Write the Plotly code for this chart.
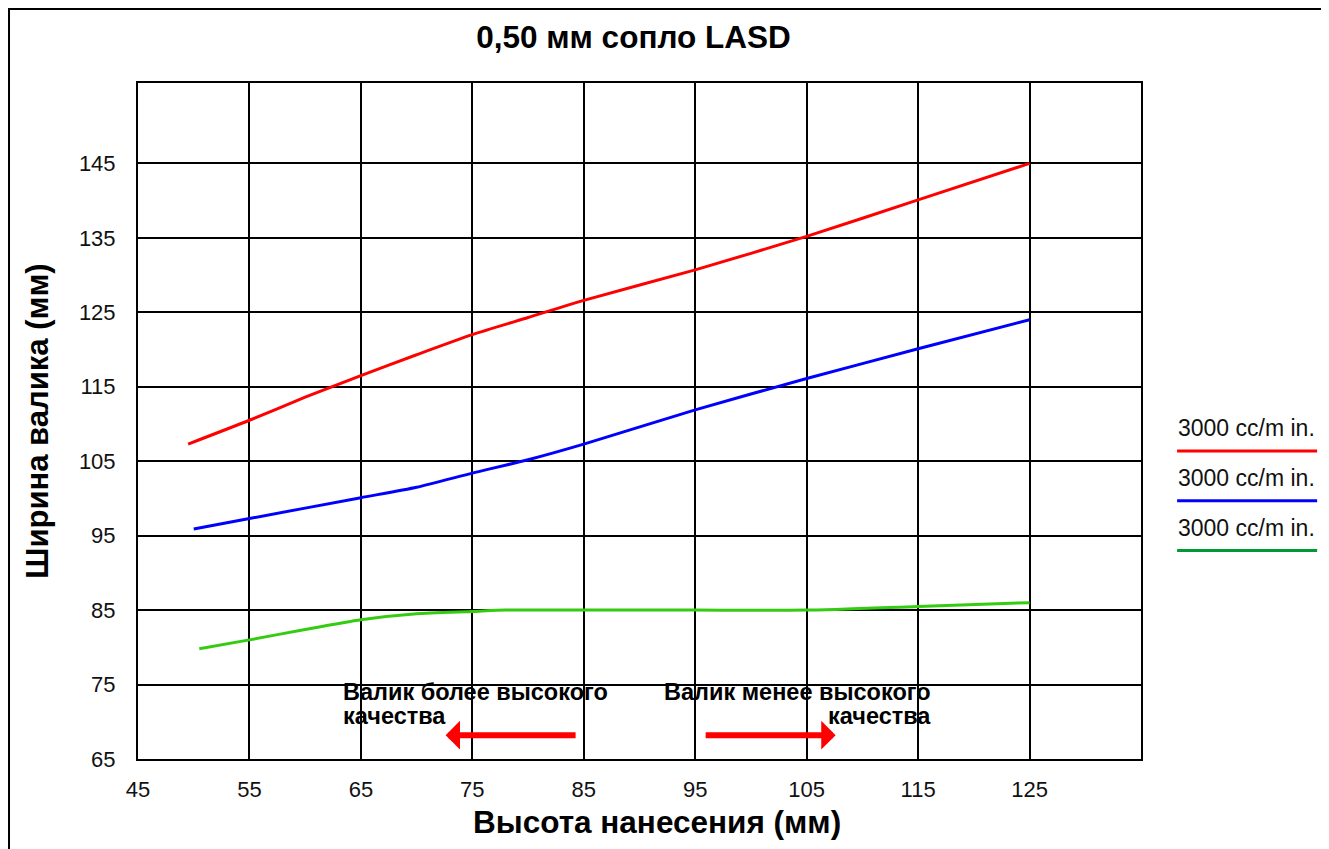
import plotly.graph_objects as go

# ======================================================
# Data
# ======================================================
red_x = [49.5, 55, 60, 65, 70, 75, 80, 85, 95, 105, 115, 125]
red_y = [107.3, 110.5, 113.6, 116.5, 119.3, 122.0, 124.3, 126.6, 130.7, 135.2, 140.1, 145.0]

blue_x = [50, 55, 65, 70, 75, 80, 85, 95, 105, 115, 125]
blue_y = [95.9, 97.3, 100.1, 101.5, 103.4, 105.2, 107.3, 111.9, 116.1, 120.1, 124.0]

green_x = [50.5, 55, 60, 65, 70, 75, 78, 85, 95, 105, 115, 125]
green_y = [79.8, 81.0, 82.4, 83.7, 84.5, 84.8, 85.0, 85.0, 85.0, 85.0, 85.5, 86.0]

series_names = ["3000 cc/m in.", "3000 cc/m in.", "3000 cc/m in."]
line_colors = ["#ff0000", "#0000ff", "#33cc11"]
legend_colors = ["#ff0000", "#0000ff", "#009933"]

x_ticks = [45, 55, 65, 75, 85, 95, 105, 115, 125]
y_ticks = [65, 75, 85, 95, 105, 115, 125, 135, 145]

FONT = "Liberation Sans, Arial, Helvetica, sans-serif"

# the page has an 8px body margin, so the figure is shifted by 8px
W, H = 1321, 841

fig = go.Figure()

for xs, ys, name, color in zip(
    [red_x, blue_x, green_x], [red_y, blue_y, green_y], series_names, line_colors
):
    fig.add_trace(
        go.Scatter(
            x=xs,
            y=ys,
            mode="lines",
            line=dict(color=color, width=3, shape="spline", smoothing=0.6),
            name=name,
            showlegend=False,
        )
    )

# ======================================================
# Custom legend (text above a line sample)
# ======================================================
legend_top = 0.489   # paper y of first label
step = 0.0735
for i, (name, color) in enumerate(zip(series_names, legend_colors)):
    y_text = legend_top - i * step
    fig.add_annotation(
        x=1.035, y=y_text, xref="paper", yref="paper",
        text=name, showarrow=False, xanchor="left", yanchor="middle",
        font=dict(size=23, family=FONT, color="#111111"),
    )
    fig.add_shape(
        type="line", xref="paper", yref="paper",
        x0=1.036, x1=1.1756, y0=y_text - 0.0335, y1=y_text - 0.0335,
        line=dict(color=color, width=3),
    )

# ======================================================
# Quality annotations with arrows
# ======================================================
note_font = dict(size=23.5, family=FONT, color="#000000", weight="bold")
fig.add_annotation(x=63.2, y=74.0, text="Валик более высокого", showarrow=False,
                   xanchor="left", yanchor="middle", font=note_font)
fig.add_annotation(x=63.2, y=70.8, text="качества", showarrow=False,
                   xanchor="left", yanchor="middle", font=note_font)
fig.add_annotation(x=116.3, y=74.0, text="Валик менее высокого", showarrow=False,
                   xanchor="right", yanchor="middle", font=note_font)
fig.add_annotation(x=116.3, y=70.8, text="качества", showarrow=False,
                   xanchor="right", yanchor="middle", font=note_font)
fig.add_annotation(
    x=72.6, y=68.2, ax=84.4, ay=68.2, xref="x", yref="y", axref="x", ayref="y",
    text="", showarrow=True, arrowhead=1, arrowsize=0.8, arrowwidth=6,
    arrowcolor="#ff0000",
)
fig.add_annotation(
    x=107.6, y=68.2, ax=95.8, ay=68.2, xref="x", yref="y", axref="x", ayref="y",
    text="", showarrow=True, arrowhead=1, arrowsize=0.8, arrowwidth=6,
    arrowcolor="#ff0000",
)

# x-axis title (sits slightly right of the plot centre)
fig.add_annotation(
    x=0.517, y=-0.0932, xref="paper", yref="paper",
    text="Высота нанесения (мм)", showarrow=False,
    xanchor="center", yanchor="middle",
    font=dict(size=31.5, family=FONT, color="#000000", weight="bold"),
)

# Outer frame (left and top edges visible)
fig.add_shape(
    type="rect", xref="paper", yref="paper",
    x0=-0.1286, x1=1.25, y0=-0.2, y1=1.1095,
    line=dict(color="#000000", width=2), layer="below",
)

fig.update_layout(
    title=dict(
        text="0,50 мм сопло LASD", xref="paper", x=0.494, xanchor="center",
        y=1 - 29 / H, yanchor="middle",
        font=dict(size=31.5, family=FONT, color="#000000", weight="bold"),
    ),
    xaxis=dict(
        range=[45, 135], tickvals=x_ticks, ticks="",
        showgrid=True, gridcolor="#000000", gridwidth=1.5,
        zeroline=False, showline=True, linecolor="#000000", linewidth=2, mirror=True,
        tickfont=dict(size=22, family=FONT, color="#111111"),
        ticklabelstandoff=10,
    ),
    yaxis=dict(
        range=[65, 155.8], tickvals=y_ticks, ticks="",
        showgrid=True, gridcolor="#000000", gridwidth=1.5,
        zeroline=False, showline=True, linecolor="#000000", linewidth=2, mirror=True,
        tickfont=dict(size=22, family=FONT, color="#111111"),
        ticklabelstandoff=16,
        title=dict(text="Ширина валика (мм)", standoff=21,
                   font=dict(size=31, family=FONT, color="#000000", weight="bold")),
    ),
    width=W,
    height=H,
    margin=dict(l=130, r=188, t=75, b=90),
    paper_bgcolor="#ffffff",
    plot_bgcolor="#ffffff",
    showlegend=False,
)

fig.write_html("out.html")
